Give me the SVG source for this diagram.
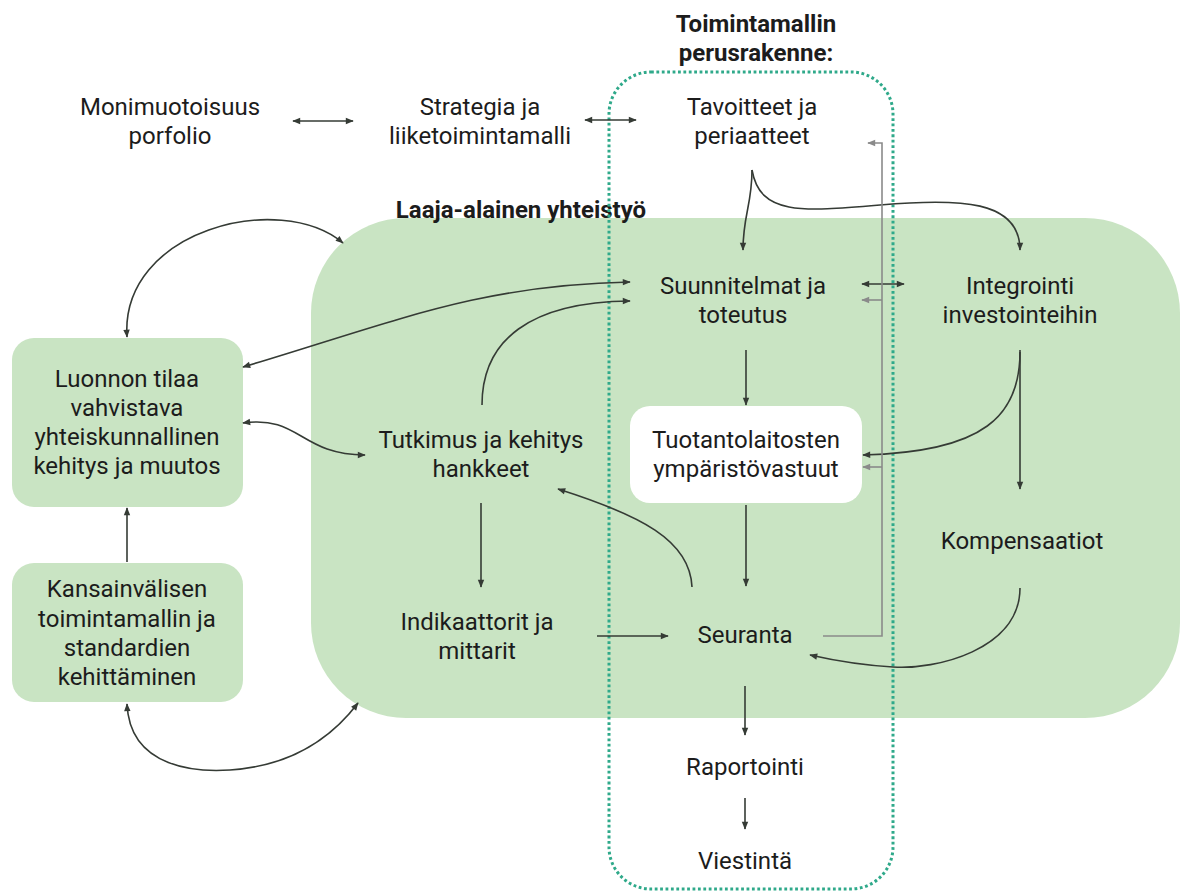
<svg xmlns="http://www.w3.org/2000/svg" width="1181" height="893" viewBox="0 0 1181 893">
<defs>
<marker id="ah" viewBox="0 0 10 10" refX="9" refY="5" markerWidth="9" markerHeight="8" markerUnits="userSpaceOnUse" orient="auto-start-reverse">
<path d="M0,1 L10,5 L0,9 z" fill="#353b35"/>
</marker>
<marker id="ahg" viewBox="0 0 10 10" refX="9" refY="5" markerWidth="9" markerHeight="8" markerUnits="userSpaceOnUse" orient="auto-start-reverse">
<path d="M0,1 L10,5 L0,9 z" fill="#8a8a8a"/>
</marker>
</defs>
<style>
text{font-family:Roboto,"Liberation Sans",sans-serif;font-size:24px;fill:#1c1c1c;text-anchor:middle}
.b{font-weight:bold;font-size:24px}
.green{fill:#c9e4c3}
.white{fill:#ffffff}
.c{fill:none;stroke:#353b35;stroke-width:1.6}
.g{fill:none;stroke:#8a8a8a;stroke-width:1.6}
.dot{fill:none;stroke:#2fa98a;stroke-width:3;stroke-dasharray:2.8 2.6}
</style>
<rect width="1181" height="893" fill="#ffffff"/>

<g id="laaja-alainen">
<rect class="green" x="311" y="218" width="869" height="500" rx="95"/>
<text class="b" x="521" y="218">Laaja-alainen yhteistyö</text>
</g>

<g id="luonnon">
<rect class="green" x="12" y="338" width="231" height="169" rx="22"/>
<text x="127" y="387">Luonnon tilaa</text>
<text x="127" y="416">vahvistava</text>
<text x="127" y="445">yhteiskunnallinen</text>
<text x="127" y="474">kehitys ja muutos</text>
</g>

<g id="kansainvalisen">
<rect class="green" x="12" y="563" width="231" height="139" rx="22"/>
<text x="127" y="597">Kansainvälisen</text>
<text x="127" y="627">toimintamallin ja</text>
<text x="127" y="656">standardien</text>
<text x="127" y="685">kehittäminen</text>
</g>

<g id="tuotantolaitosten">
<rect class="white" x="630" y="406" width="232" height="97" rx="20"/>
<text x="746" y="448">Tuotantolaitosten</text>
<text x="746" y="477">ympäristövastuut</text>
</g>

<g id="perusrakenne">
<rect class="dot" x="609" y="72" width="284" height="817" rx="42"/>
<text class="b" x="756" y="32">Toimintamallin</text>
<text class="b" x="756" y="61">perusrakenne:</text>
</g>

<g id="monimuotoisuus">
<text x="170" y="115">Monimuotoisuus</text>
<text x="170" y="144">porfolio</text>
</g>
<g id="strategia">
<text x="480" y="115">Strategia ja</text>
<text x="480" y="144">liiketoimintamalli</text>
</g>
<g id="tavoitteet">
<text x="752" y="115">Tavoitteet ja</text>
<text x="752" y="144">periaatteet</text>
</g>
<g id="suunnitelmat">
<text x="743" y="294">Suunnitelmat ja</text>
<text x="743" y="323">toteutus</text>
</g>
<g id="integrointi">
<text x="1020" y="294">Integrointi</text>
<text x="1020" y="323">investointeihin</text>
</g>
<g id="tutkimus">
<text x="481" y="448">Tutkimus ja kehitys</text>
<text x="481" y="477">hankkeet</text>
</g>
<g id="kompensaatiot">
<text x="1022" y="549">Kompensaatiot</text>
</g>
<g id="indikaattorit">
<text x="477" y="630">Indikaattorit ja</text>
<text x="477" y="659">mittarit</text>
</g>
<g id="seuranta">
<text x="745" y="643">Seuranta</text>
</g>
<g id="raportointi">
<text x="745" y="775">Raportointi</text>
</g>
<g id="viestinta">
<text x="745" y="869">Viestintä</text>
</g>

<g id="connectors">
<path class="c" d="M293,121 L353,121" marker-start="url(#ah)" marker-end="url(#ah)"/>
<path class="c" d="M585,120 L636,120" marker-start="url(#ah)" marker-end="url(#ah)"/>
<path class="c" d="M752,170 C752,205 743,215 743,250" marker-end="url(#ah)"/>
<path class="c" d="M752,170 C760,215 800,212 880,205 C960,198 1020,200 1020,250" marker-end="url(#ah)"/>
<path class="c" d="M862,284 L904,284" marker-start="url(#ah)" marker-end="url(#ah)"/>
<path class="c" d="M746,350 L746,405" marker-end="url(#ah)"/>
<path class="c" d="M746,505 L746,586" marker-end="url(#ah)"/>
<path class="c" d="M745,686 L745,735" marker-end="url(#ah)"/>
<path class="c" d="M745,798 L745,829" marker-end="url(#ah)"/>
<path class="c" d="M1020,350 L1020,489" marker-end="url(#ah)"/>
<path class="c" d="M1020,352 C1020,415 985,452 863,455" marker-end="url(#ah)"/>
<path class="c" d="M1020,588 C1020,650 935,670 893,667 C860,665 832,660 810,655" marker-end="url(#ah)"/>
<path class="c" d="M597,636 L668,636" marker-end="url(#ah)"/>
<path class="c" d="M481,503 L481,587" marker-end="url(#ah)"/>
<path class="c" d="M692,587 C690,540 640,515 558,489" marker-end="url(#ah)"/>
<path class="c" d="M482,405 C482,340 530,302 630,301" marker-end="url(#ah)"/>
<path class="c" d="M243,367 C400,320 480,285 630,282" marker-start="url(#ah)" marker-end="url(#ah)"/>
<path class="c" d="M127,337 C120,230 280,190 343,243" marker-start="url(#ah)" marker-end="url(#ah)"/>
<path class="c" d="M243,423 C300,415 300,455 365,455" marker-start="url(#ah)" marker-end="url(#ah)"/>
<path class="c" d="M127,562 L127,508" marker-end="url(#ah)"/>
<path class="c" d="M127,704 C130,770 200,772 230,770 C290,766 330,740 358,703" marker-start="url(#ah)" marker-end="url(#ah)"/>
<path class="g" d="M823,636 L882,636 L882,143 L868,143" marker-end="url(#ahg)"/>
<path class="g" d="M882,300 L862,300" marker-end="url(#ahg)"/>
<path class="g" d="M882,467 L863,467" marker-end="url(#ahg)"/>
</g>
</svg>
